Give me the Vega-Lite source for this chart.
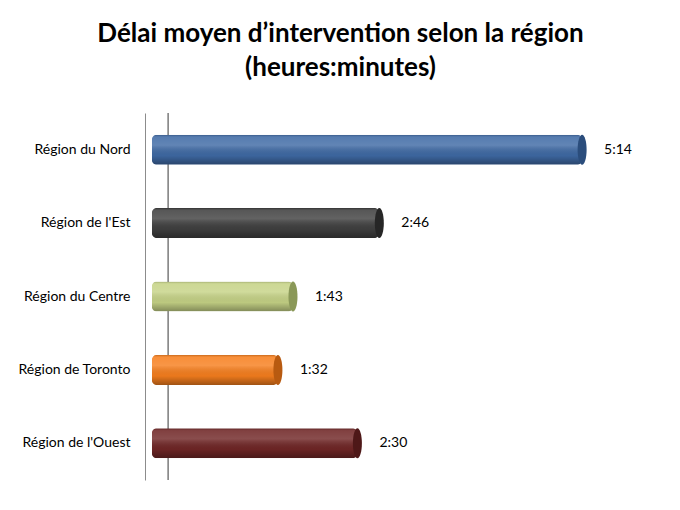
{
  "$schema": "https://vega.github.io/schema/vega-lite/v6.json",
  "width": 507,
  "height": 367,
  "autosize": "none",
  "padding": {"left": 145, "top": 113, "right": 28, "bottom": 30},
  "background": "white",
  "title": {
    "text": ["Délai moyen d’intervention selon la région", "(heures:minutes)"],
    "font": "Lato",
    "fontSize": 26,
    "fontWeight": "bold",
    "color": "black",
    "anchor": "middle",
    "dx": -58,
    "offset": 32,
    "lineHeight": 34
  },
  "config": {"view": {"stroke": null}, "font": "Lato"},
  "data": {
    "values": [
      {"region": "Région du Nord", "minutes": 314, "label": "5:14"},
      {"region": "Région de l'Est", "minutes": 166, "label": "2:46"},
      {"region": "Région du Centre", "minutes": 103, "label": "1:43"},
      {"region": "Région de Toronto", "minutes": 92, "label": "1:32"},
      {"region": "Région de l'Ouest", "minutes": 150, "label": "2:30"}
    ]
  },
  "layer": [
    {
      "mark": {"type": "rule", "color": "#8c8c8c", "strokeWidth": 1},
      "encoding": {
        "x": {
          "datum": 12, "type": "quantitative",
          "scale": {"domain": [-5, 365], "nice": false, "zero": false},
          "axis": null
        }
      }
    },
    {
      "mark": {"type": "bar", "size": 30, "cornerRadius": 5},
      "encoding": {
        "y": {
          "field": "region", "type": "nominal", "sort": null, "title": null,
          "axis": {
            "labelFont": "Lato", "labelFontSize": 14, "labelColor": "black",
            "labelPadding": 15, "ticks": false, "domain": true,
            "domainColor": "#8c8c8c", "grid": false
          }
        },
        "x": {
          "field": "minutes", "type": "quantitative",
          "scale": {"domain": [-5, 365], "nice": false, "zero": false},
          "axis": null
        },
        "color": {
          "field": "region", "type": "nominal", "legend": null,
          "scale": {
            "domain": ["Région du Nord", "Région de l'Est", "Région du Centre", "Région de Toronto", "Région de l'Ouest"],
            "range": ["#3f6aa5", "#404040", "#c6d386", "#f77f1e", "#702626"]
          }
        }
      }
    },
    {
      "mark": {
        "type": "bar", "size": 30, "cornerRadius": 5,
        "color": {
          "gradient": "linear", "x1": 0, "y1": 0, "x2": 0, "y2": 1,
          "stops": [
            {"offset": 0, "color": "rgba(0,0,0,0.2)"},
            {"offset": 0.08, "color": "rgba(255,255,255,0.12)"},
            {"offset": 0.35, "color": "rgba(255,255,255,0.18)"},
            {"offset": 0.7, "color": "rgba(0,0,0,0.05)"},
            {"offset": 1, "color": "rgba(0,0,0,0.35)"}
          ]
        }
      },
      "encoding": {
        "y": {"field": "region", "type": "nominal", "sort": null},
        "x": {"field": "minutes", "type": "quantitative"}
      }
    },
    {
      "mark": {
        "type": "point", "filled": true, "opacity": 1, "size": 900,
        "shape": "M0,-1A0.3,1,0,1,1,0,1A0.3,1,0,1,1,0,-1Z"
      },
      "encoding": {
        "y": {"field": "region", "type": "nominal", "sort": null},
        "x": {"field": "minutes", "type": "quantitative"},
        "fill": {
          "field": "region", "type": "nominal", "legend": null,
          "scale": {
            "domain": ["Région du Nord", "Région de l'Est", "Région du Centre", "Région de Toronto", "Région de l'Ouest"],
            "range": ["#2b4d7c", "#262626", "#8a9858", "#b85a10", "#4e1818"]
          }
        }
      }
    },
    {
      "mark": {"type": "text", "align": "left", "baseline": "middle", "dx": 22, "font": "Lato", "fontSize": 14, "color": "black"},
      "encoding": {
        "y": {"field": "region", "type": "nominal", "sort": null},
        "x": {"field": "minutes", "type": "quantitative"},
        "text": {"field": "label"}
      }
    }
  ]
}
